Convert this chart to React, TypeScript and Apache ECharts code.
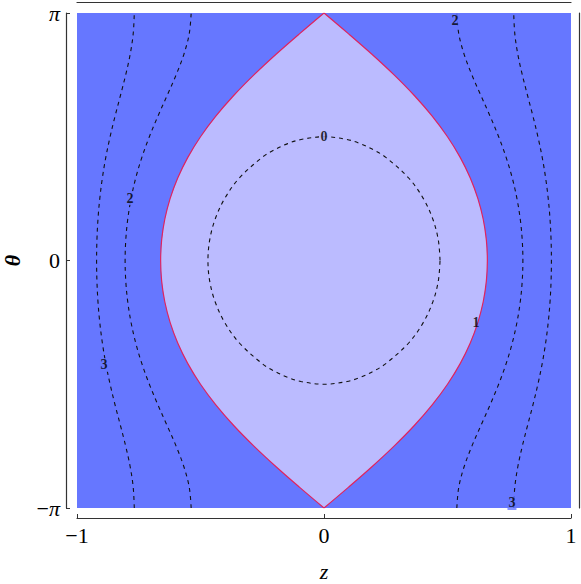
import React, { useEffect, useRef } from "react";
import * as echarts from "echarts";

// Contour z-values, at θ (degrees)
const THETA_DEG = [-180, -165, -150, -135, -120, -105, -90, -75, -60, -45, -30, -15, 0, 15, 30, 45, 60, 75, 90, 105, 120, 135, 150, 165, 180];
const Z_LEVEL1 = [0, 0.0985, 0.194, 0.2837, 0.3656, 0.438, 0.5, 0.5513, 0.5922, 0.6231, 0.6446, 0.6573, 0.6614, 0.6573, 0.6446, 0.6231, 0.5922, 0.5513, 0.5, 0.438, 0.3656, 0.2837, 0.194, 0.0985, 0];
const Z_LEVEL2 = [0.5378, 0.5455, 0.5672, 0.5987, 0.6352, 0.6724, 0.7071, 0.7374, 0.7622, 0.7812, 0.7946, 0.8025, 0.8052, 0.8025, 0.7946, 0.7812, 0.7622, 0.7374, 0.7071, 0.6724, 0.6352, 0.5987, 0.5672, 0.5455, 0.5378];
const Z_LEVEL3 = [0.7681, 0.7724, 0.7847, 0.8029, 0.8241, 0.8459, 0.866, 0.8834, 0.8973, 0.9078, 0.9151, 0.9193, 0.9207, 0.9193, 0.9151, 0.9078, 0.8973, 0.8834, 0.866, 0.8459, 0.8241, 0.8029, 0.7847, 0.7724, 0.7681];
const THETA0_DEG = [-90, -88, -85, -80, -75, -60, -45, -30, -15, 0, 15, 30, 45, 60, 75, 80, 85, 88, 90];
const Z_LEVEL0 = [0, 0.0932, 0.1468, 0.2061, 0.2503, 0.3427, 0.4023, 0.4408, 0.4627, 0.4698, 0.4627, 0.4408, 0.4023, 0.3427, 0.2503, 0.2061, 0.1468, 0.0932, 0];

// Contour labels: z, θ (rad), text
const LABEL_Z = [0, 0.615, -0.785, 0.53, -0.891, 0.761];
const LABEL_THETA = [1.57, -0.787, 0.793, 3.05, -1.326, -3.078];
const LABEL_TEXT = ["0", "1", "2", "2", "3", "3"];
const LABEL_BG = ["light", "none", "dark", "dark", "dark", "dark"];

const X_TICKS = [-1, 0, 1];

const DARK = "#6677ff";
const LIGHT = "#bbbbff";
const RED = "#e0245e";
const FRAME = "#333333";
const SERIF = "'Liberation Serif', 'DejaVu Serif', serif";
const FS = 22;

const rad = (d: number) => (d * Math.PI) / 180;

function branch(thetas: number[], zs: number[], sign: number) {
  return thetas.map((t, i) => [sign * zs[i], rad(t)]);
}

export default function App() {
  const ref = useRef<HTMLDivElement>(null);
  useEffect(() => {
    document.body.style.margin = "0";
    if (!ref.current) return;
    const chart = echarts.init(ref.current, null, { renderer: "svg" });

    const lensRight = branch(THETA_DEG, Z_LEVEL1, 1);
    const lensLeft = branch(THETA_DEG, Z_LEVEL1, -1);
    const lensPoly = [...lensRight, ...lensLeft.slice().reverse()];

    const r0 = branch(THETA0_DEG, Z_LEVEL0, 1);
    const l0 = branch(THETA0_DEG, Z_LEVEL0, -1);
    const mid = THETA0_DEG.indexOf(0);
    const loop0 = [...r0.slice(mid), ...l0.slice().reverse(), ...r0.slice(1, mid + 1)];

    const dashed = {
      color: "#111111",
      width: 1.1,
      type: [4, 4] as any,
    };

    const lineSeries = (data: number[][], style: any, z = 3) => ({
      type: "line",
      data,
      smooth: 0.35,
      showSymbol: false,
      symbol: "none",
      lineStyle: style,
      silent: true,
      z,
      xAxisIndex: 0,
      yAxisIndex: 0,
    });

    const labelData = LABEL_Z.map((z, i) => ({
      value: [z, LABEL_THETA[i]],
      label: {
        show: true,
        position: "inside",
        formatter: LABEL_TEXT[i],
        backgroundColor: LABEL_BG[i] === "light" ? LIGHT : LABEL_BG[i] === "dark" ? DARK : "transparent",
        padding: [0, 1],
      },
    }));

    const option: any = {
      animation: false,
      grid: {
        left: 77,
        right: 10,
        top: 13,
        bottom: 76,
        show: true,
        backgroundColor: DARK,
        borderWidth: 0,
        containLabel: false,
        outerBoundsMode: "none",
      },
      xAxis: [
        {
          type: "value",
          min: -1,
          max: 1,
          interval: 1,
          offset: 10,
          position: "bottom",
          name: "z",
          nameLocation: "middle",
          nameGap: 42,
          nameTextStyle: { fontFamily: SERIF, fontStyle: "italic", fontSize: FS, color: "#000" },
          axisLine: { show: true, onZero: false, lineStyle: { color: FRAME, width: 1.2 } },
          axisTick: { show: true, inside: true, length: 4, lineStyle: { color: FRAME } },
          splitLine: { show: false },
          axisLabel: {
            margin: 6,
            fontFamily: SERIF,
            fontSize: FS,
            color: "#000",
            formatter: (v: number) => (X_TICKS.includes(v) ? (v < 0 ? "\u2212" + Math.abs(v) : String(v)) : ""),
          },
        },
        {
          type: "value",
          min: -1,
          max: 1,
          position: "top",
          offset: 11,
          axisLine: { show: true, onZero: false, lineStyle: { color: FRAME, width: 1.2 } },
          axisTick: { show: false },
          axisLabel: { show: false },
          splitLine: { show: false },
        },
      ],
      yAxis: [
        {
          type: "value",
          min: -Math.PI,
          max: Math.PI,
          interval: Math.PI,
          offset: 11,
          position: "left",
          name: "θ",
          nameLocation: "middle",
          nameGap: 43,
          nameTextStyle: { fontFamily: SERIF, fontStyle: "italic", fontWeight: "bold", fontSize: FS, color: "#000" },
          axisLine: { show: true, onZero: false, lineStyle: { color: FRAME, width: 1.2 } },
          axisTick: { show: true, inside: true, length: 4, lineStyle: { color: FRAME } },
          splitLine: { show: false },
          axisLabel: {
            margin: 6,
            fontFamily: SERIF,
            fontSize: FS,
            color: "#000",
            formatter: (v: number) => {
              if (Math.abs(v) < 1e-9) return "0";
              return v > 0 ? "{i|π}" : "\u2212{i|π}";
            },
            rich: { i: { fontFamily: SERIF, fontStyle: "italic", fontSize: FS, color: "#000" } },
          },
        },
        {
          type: "value",
          min: -Math.PI,
          max: Math.PI,
          position: "right",
          offset: 8,
          axisLine: { show: true, onZero: false, lineStyle: { color: FRAME, width: 1.2 } },
          axisTick: { show: false },
          axisLabel: { show: false },
          splitLine: { show: false },
        },
      ],
      series: [
        {
          type: "custom",
          xAxisIndex: 0,
          yAxisIndex: 0,
          data: [[0, 0]],
          silent: true,
          z: 1,
          renderItem: (_p: any, api: any) => ({
            type: "polygon",
            shape: { points: lensPoly.map((p) => api.coord(p)) },
            style: { fill: LIGHT, stroke: "none" },
          }),
        },
        lineSeries(loop0, dashed),
        lineSeries(branch(THETA_DEG, Z_LEVEL2, 1), dashed),
        lineSeries(branch(THETA_DEG, Z_LEVEL2, -1), dashed),
        lineSeries(branch(THETA_DEG, Z_LEVEL3, 1), dashed),
        lineSeries(branch(THETA_DEG, Z_LEVEL3, -1), dashed),
        lineSeries(lensRight, { color: RED, width: 1.2, type: "solid" }, 4),
        lineSeries(lensLeft, { color: RED, width: 1.2, type: "solid" }, 4),
        {
          type: "scatter",
          xAxisIndex: 0,
          yAxisIndex: 0,
          symbolSize: 1,
          itemStyle: { color: "rgba(0,0,0,0)" },
          silent: true,
          z: 6,
          label: {
            show: true,
            fontFamily: SERIF,
            fontWeight: "bold",
            fontSize: 14,
            color: "#000",
          },
          data: labelData,
        },
      ],
    };
    chart.setOption(option);
    return () => chart.dispose();
  }, []);
  return <div ref={ref} style={{ width: 581, height: 584 }} />;
}
